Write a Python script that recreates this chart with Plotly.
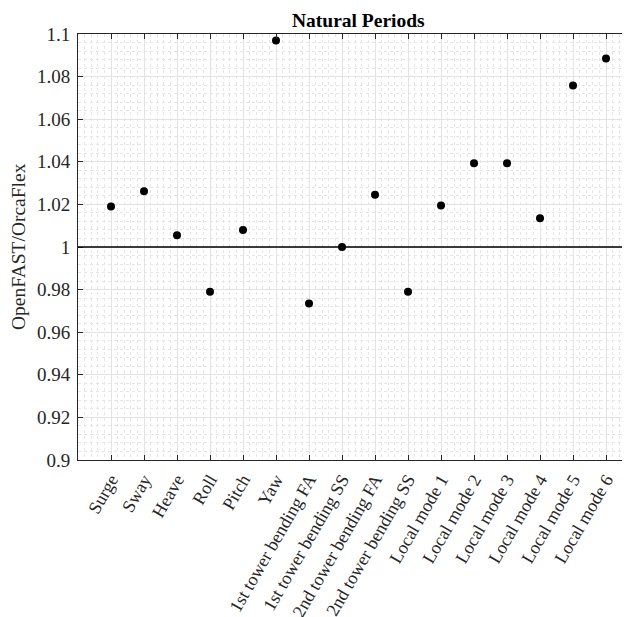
import plotly.graph_objects as go

categories = ["Surge", "Sway", "Heave", "Roll", "Pitch", "Yaw",
              "1st tower bending FA", "1st tower bending SS",
              "2nd tower bending FA", "2nd tower bending SS",
              "Local mode 1", "Local mode 2", "Local mode 3",
              "Local mode 4", "Local mode 5", "Local mode 6"]
ratio = [1.019, 1.0262, 1.0055, 0.979, 1.008, 1.097,
         0.9735, 1.0, 1.0245, 0.979,
         1.0195, 1.0393, 1.0393, 1.0135, 1.0758, 1.0885]
y_ticks = [0.9, 0.92, 0.94, 0.96, 0.98, 1.0, 1.02, 1.04, 1.06, 1.08, 1.1]
y_tick_labels = ["0.9", "0.92", "0.94", "0.96", "0.98", "1",
                 "1.02", "1.04", "1.06", "1.08", "1.1"]
reference_value = 1.0

x_pos = list(range(1, len(categories) + 1))
FONT = "Liberation Serif"
AX = "#262626"

fig = go.Figure()
fig.add_trace(go.Scatter(
    x=x_pos, y=ratio, mode="markers",
    marker=dict(color="black", size=8, line=dict(width=0)),
    showlegend=False, cliponaxis=False,
))
fig.add_shape(type="line", xref="paper", yref="y", x0=0, x1=1,
              y0=reference_value, y1=reference_value,
              line=dict(color="black", width=1.5), layer="above")

fig.add_annotation(text="<b>Natural Periods</b>", xref="x", yref="paper",
                   x=8.5, y=1.0, yanchor="bottom", yshift=1, showarrow=False,
                   font=dict(family=FONT, size=19.5, color="black"))
fig.add_annotation(text="OpenFAST/OrcaFlex", xref="paper", yref="paper",
                   x=0, y=0.5, xshift=-60, xanchor="center", yanchor="middle",
                   textangle=-90, showarrow=False,
                   font=dict(family=FONT, size=19.5, color=AX))

fig.update_layout(
    width=622, height=609,
    margin=dict(l=70, r=0, t=26, b=157),
    paper_bgcolor="white", plot_bgcolor="white",
    font=dict(family=FONT, size=19, color=AX),
    xaxis=dict(
        range=[0, 16.727], tickmode="array", tickvals=x_pos, ticktext=categories,
        tickangle=-60, ticks="inside", ticklen=5, tickcolor=AX,
        showline=True, linecolor=AX, linewidth=1, mirror="ticks",
        showgrid=True, gridcolor="#e3e3e3", gridwidth=1, zeroline=False,
        automargin=False, ticklabelstandoff=1,
        tickfont=dict(family=FONT, size=18, color=AX),
        minor=dict(dtick=0.2, showgrid=True, gridcolor="#e6e6e6",
                   griddash="dot", gridwidth=1, ticks=""),
    ),
    yaxis=dict(
        range=[0.9, 1.1], tickmode="array", tickvals=y_ticks, ticktext=y_tick_labels,
        ticks="inside", ticklen=5, tickcolor=AX,
        showline=True, linecolor=AX, linewidth=1, mirror=False,
        showgrid=True, gridcolor="#e3e3e3", gridwidth=1, zeroline=False,
        automargin=False, ticklabelstandoff=3,
        tickfont=dict(family=FONT, size=19, color=AX),
        minor=dict(dtick=0.004, tick0=0.9, showgrid=True, gridcolor="#e6e6e6",
                   griddash="dot", gridwidth=1, ticks=""),
    ),
)

fig.write_html("out.html")
